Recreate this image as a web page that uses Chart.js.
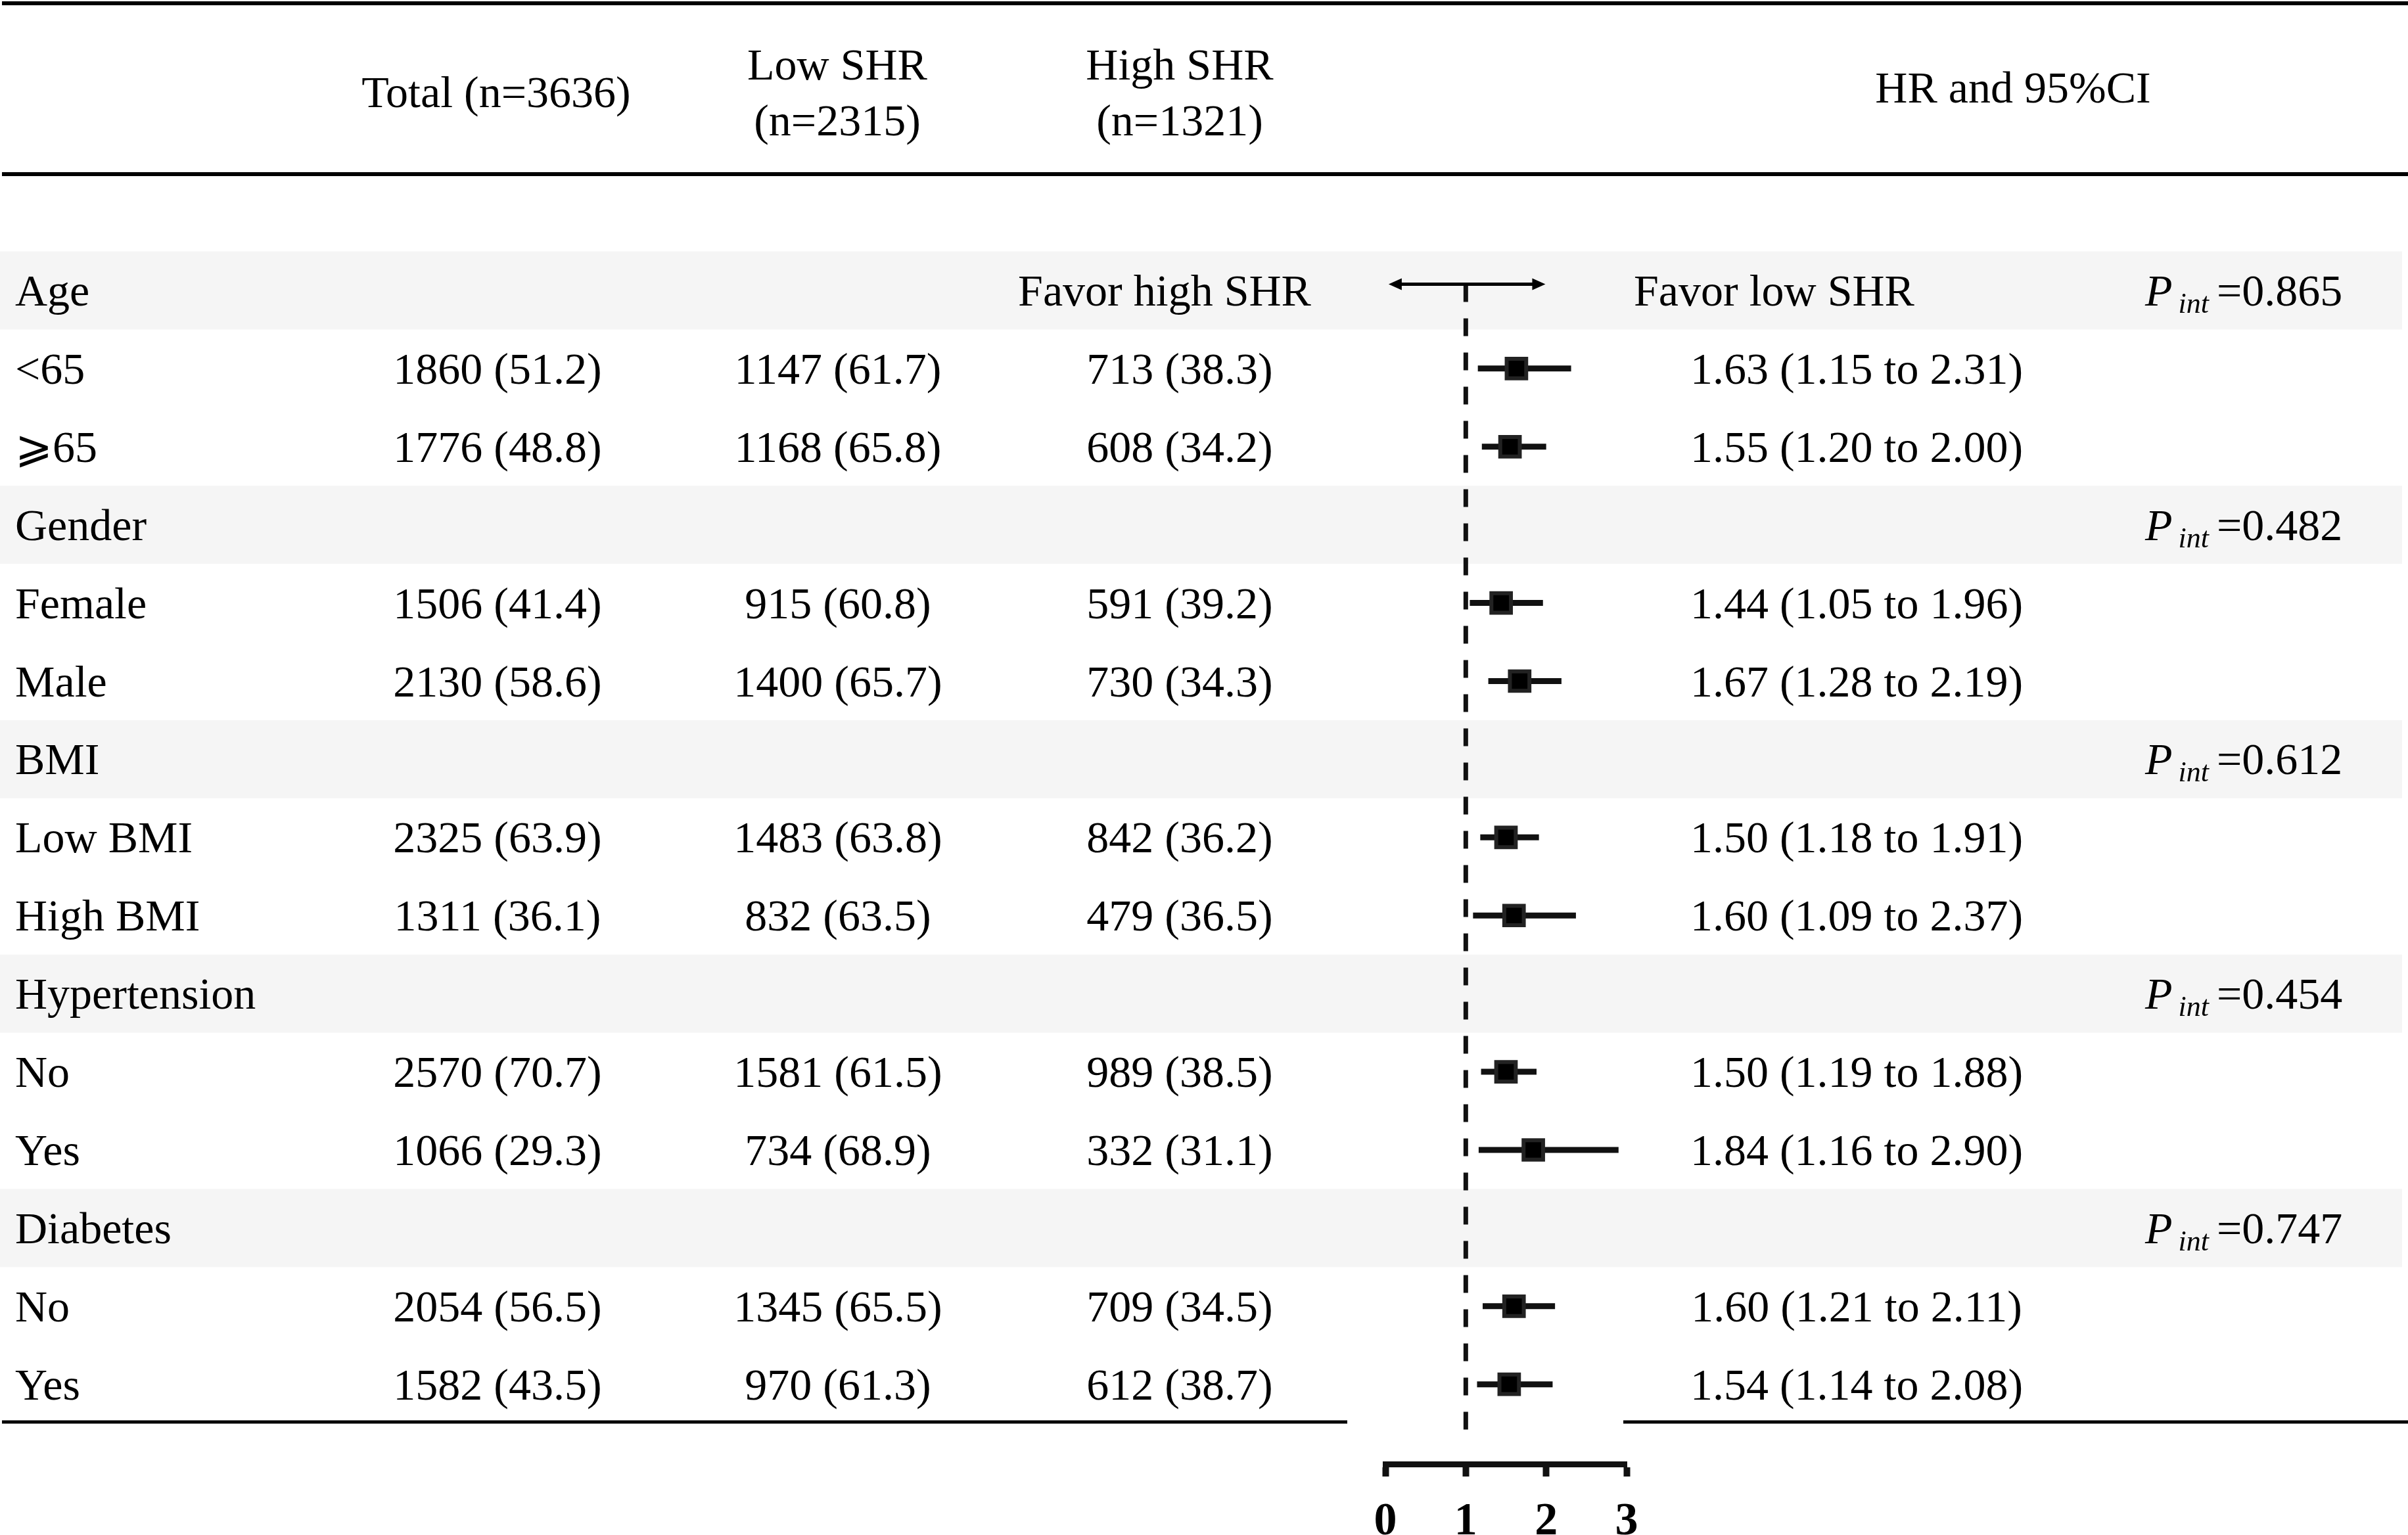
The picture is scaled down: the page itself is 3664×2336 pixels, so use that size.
<!DOCTYPE html>
<html>
<head>
<meta charset="utf-8">
<script src="https://cdn.jsdelivr.net/npm/chart.js@4.4.1/dist/chart.umd.min.js"></script>
<style>
  html, body { margin: 0; padding: 0; background: #fff; overflow: hidden; }
  canvas { display: block; }
</style>
</head>
<body>
<canvas id="forestCanvas" width="3664" height="2336"></canvas>
<script>
// table data
const groups = ['Age', 'Gender', 'BMI', 'Hypertension', 'Diabetes'];
const pInt = ['0.865', '0.482', '0.612', '0.454', '0.747'];
const subgroups = ['<65', '\u2A7E65', 'Female', 'Male', 'Low BMI', 'High BMI', 'No', 'Yes', 'No', 'Yes'];
const totalN = [1860, 1776, 1506, 2130, 2325, 1311, 2570, 1066, 2054, 1582];
const totalPct = [51.2, 48.8, 41.4, 58.6, 63.9, 36.1, 70.7, 29.3, 56.5, 43.5];
const lowN = [1147, 1168, 915, 1400, 1483, 832, 1581, 734, 1345, 970];
const lowPct = [61.7, 65.8, 60.8, 65.7, 63.8, 63.5, 61.5, 68.9, 65.5, 61.3];
const highN = [713, 608, 591, 730, 842, 479, 989, 332, 709, 612];
const highPct = [38.3, 34.2, 39.2, 34.3, 36.2, 36.5, 38.5, 31.1, 34.5, 38.7];
const hr = [1.63, 1.55, 1.44, 1.67, 1.50, 1.60, 1.50, 1.84, 1.60, 1.54];
const hrLow = [1.15, 1.20, 1.05, 1.28, 1.18, 1.09, 1.19, 1.16, 1.21, 1.14];
const hrHigh = [2.31, 2.00, 1.96, 2.19, 1.91, 2.37, 1.88, 2.90, 2.11, 2.08];
const xTicks = [0, 1, 2, 3];

const FONT = '"Liberation Serif", "Times New Roman", "DejaVu Serif", serif';
const rowOf = (k) => Math.floor(k / 2) * 3 + 1 + (k % 2);
const fmt = (n, p) => n + ' (' + p.toFixed(1) + ')';

const pointData = hr.map((v, k) => ({ x: v, y: rowOf(k) }));
const ciSets = subgroups.map((s, k) => ({
  type: 'scatter',
  showLine: true,
  data: [{ x: hrLow[k], y: rowOf(k) }, { x: hrHigh[k], y: rowOf(k) }],
  borderColor: '#111',
  borderWidth: 9,
  borderCapStyle: 'butt',
  pointRadius: 0
}));

const tablePlugin = {
  id: 'tablePlugin',
  beforeDatasetsDraw(chart) {
    const ctx = chart.ctx;
    const y = chart.scales.y;
    ctx.save();
    ctx.fillStyle = '#f5f5f5';
    groups.forEach((g, i) => {
      const top = y.getPixelForValue(i * 3 - 0.5);
      const bot = y.getPixelForValue(i * 3 + 0.5);
      ctx.fillRect(0, top, 3655, bot - top);
    });
    ctx.restore();
  },
  afterDraw(chart) {
    const ctx = chart.ctx;
    const x = chart.scales.x;
    const y = chart.scales.y;
    const base = (i) => y.getPixelForValue(i) + 23;
    ctx.save();
    ctx.fillStyle = '#000';
    ctx.strokeStyle = '#000';
    ctx.textBaseline = 'alphabetic';

    // rules
    ctx.lineWidth = 6;
    ctx.beginPath(); ctx.moveTo(3, 5); ctx.lineTo(3664, 5); ctx.stroke();
    ctx.beginPath(); ctx.moveTo(3, 265); ctx.lineTo(3664, 265); ctx.stroke();
    ctx.lineWidth = 5;
    ctx.beginPath(); ctx.moveTo(3, 2164); ctx.lineTo(2050, 2164); ctx.stroke();
    ctx.beginPath(); ctx.moveTo(2470, 2164); ctx.lineTo(3664, 2164); ctx.stroke();

    // header
    ctx.font = '68px ' + FONT;
    ctx.textAlign = 'center';
    ctx.fillText('Total (n=3636)', 755, 163);
    ctx.fillText('Low SHR', 1274, 121);
    ctx.fillText('(n=2315)', 1274, 206);
    ctx.fillText('High SHR', 1795, 121);
    ctx.fillText('(n=1321)', 1795, 206);
    ctx.fillText('HR and 95%CI', 3063, 156);

    // group rows
    groups.forEach((g, i) => {
      const b = base(i * 3);
      ctx.font = '68px ' + FONT;
      ctx.textAlign = 'left';
      ctx.fillText(g, 23, b);
      let px = 3264;
      ctx.font = 'italic 68px ' + FONT;
      ctx.fillText('P', px, b);
      px += ctx.measureText('P').width + 9;
      ctx.font = 'italic 44px ' + FONT;
      ctx.fillText('int', px, b + 11);
      px += ctx.measureText('int').width + 12;
      ctx.font = '68px ' + FONT;
      ctx.fillText('=' + pInt[i], px, b);
    });

    // favor labels
    ctx.font = '68px ' + FONT;
    ctx.textAlign = 'center';
    ctx.fillText('Favor high SHR', 1772, base(0));
    ctx.textAlign = 'left';
    ctx.fillText('Favor low SHR', 2486, base(0));

    // subgroup rows
    subgroups.forEach((s, k) => {
      const b = base(rowOf(k));
      ctx.textAlign = 'left';
      ctx.fillText(s, 23, b);
      ctx.textAlign = 'center';
      ctx.fillText(fmt(totalN[k], totalPct[k]), 757, b);
      ctx.fillText(fmt(lowN[k], lowPct[k]), 1275, b);
      ctx.fillText(fmt(highN[k], highPct[k]), 1795, b);
      ctx.fillText(hr[k].toFixed(2) + ' (' + hrLow[k].toFixed(2) + ' to ' + hrHigh[k].toFixed(2) + ')', 2825, b);
    });

    // double arrow above the plot
    const ay = y.getPixelForValue(-0.08);
    const ax0 = x.getPixelForValue(0.04);
    const ax1 = x.getPixelForValue(1.99);
    ctx.lineWidth = 5;
    ctx.beginPath(); ctx.moveTo(ax0 + 8, ay); ctx.lineTo(ax1 - 8, ay); ctx.stroke();
    ctx.beginPath();
    ctx.moveTo(ax0, ay); ctx.lineTo(ax0 + 20, ay - 9); ctx.lineTo(ax0 + 20, ay + 9); ctx.closePath();
    ctx.moveTo(ax1, ay); ctx.lineTo(ax1 - 20, ay - 9); ctx.lineTo(ax1 - 20, ay + 9); ctx.closePath();
    ctx.fill();
    ctx.restore();
  }
};

const forestCanvas = document.getElementById('forestCanvas');
new Chart(forestCanvas, {
  type: 'scatter',
  data: {
    datasets: [
      {
        data: pointData,
        pointStyle: 'rect',
        pointRadius: 21,
        pointHoverRadius: 21,
        pointBackgroundColor: '#000',
        pointBorderColor: '#222',
        pointBorderWidth: 6
      },
      ...ciSets,
      {
        showLine: true,
        data: [{ x: 1, y: -0.08 }, { x: 1, y: 14.76 }],
        borderColor: '#111',
        borderWidth: 7,
        borderDash: [27, 25],
        pointRadius: 0
      }
    ]
  },
  options: {
    responsive: false,
    animation: false,
    devicePixelRatio: 1,
    layout: { padding: { left: 2108, right: 1189, top: 382.5, bottom: 0 } },
    plugins: { legend: { display: false }, tooltip: { enabled: false } },
    scales: {
      y: { type: 'linear', min: -0.5, max: 15.02, reverse: true, display: false },
      x: {
        type: 'linear',
        min: 0,
        max: 3,
        afterBuildTicks: (scale) => { scale.ticks = xTicks.map(v => ({ value: v })); },
        afterFit: (scale) => { scale.height = 108; },
        ticks: {
          color: '#000',
          padding: 28,
          font: { family: FONT, size: 70, weight: 'bold' }
        },
        grid: {
          drawOnChartArea: false,
          drawTicks: true,
          tickLength: 19,
          tickWidth: 10,
          tickColor: '#111'
        },
        border: { display: true, color: '#111', width: 9 }
      }
    }
  },
  plugins: [tablePlugin]
});
</script>
</body>
</html>
